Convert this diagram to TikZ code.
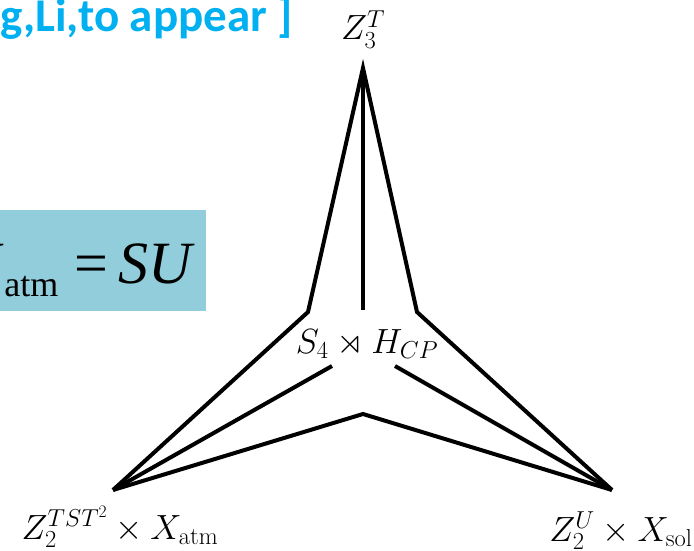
\RequirePackage{fix-cm}
\documentclass[tikz,border=0pt]{standalone}
\usepackage{amsmath, amssymb}
\usepackage{fontspec}
\usepackage{xcolor}
\usetikzlibrary{positioning}
\newfontfamily\slidesans{Carlito}
\newfontfamily\slideserif{Liberation Serif}
\definecolor{slideblue}{RGB}{0,176,240}
\definecolor{boxaqua}{RGB}{146,205,220}

\begin{document}
\begin{tikzpicture}[x=1pt, y=-1pt,
    leg/.style={line width=4pt, line join=miter},
    lbl/.style={inner sep=0pt, anchor=base,
                font=\fontsize{35}{42}\selectfont},
    cite/.style={inner sep=0pt, anchor=base west, text=slideblue,
                 font=\slidesans\bfseries\fontsize{47}{56}\selectfont},
    eqbox/.style={fill=boxaqua, inner sep=0pt, anchor=north west,
                  minimum width=206pt, minimum height=101pt},
    eq/.style={inner sep=0pt, anchor=base east,
               font=\slideserif\fontsize{60}{72}\selectfont}
]
    \useasboundingbox (0,0) rectangle (694,551);

    \node[cite] (note) at (0,32) {g,Li,to appear ]};
    \node[eqbox] (box) at (0,210) {};
    \node[eq] (eqtext) at (195,283)
        {\textit{V}\raisebox{-13pt}{\fontsize{36}{36}\selectfont atm}\hspace{16pt}=\hspace{10pt}\textit{SU}};

    \coordinate (top) at (363,68);
    \coordinate (kl) at (308,312);
    \coordinate (kr) at (417,312);
    \coordinate (bl) at (113,490);
    \coordinate (br) at (612,490);
    \coordinate (kb) at (363,414);
    \coordinate (mid) at (363,310);
    \coordinate (sl) at (332,366);
    \coordinate (sr) at (395,366);

    \draw[leg] (bl) -- (kl) -- (top) -- (kr) -- (br);
    \draw[leg] (top) -- (mid);
    \draw[leg] (bl) -- (sl);
    \draw[leg] (br) -- (sr);
    \draw[leg] (bl) -- (kb) -- (br);

    \node[lbl] (z3) at (363,40) {$Z_3^T$};
    \node[lbl] (s4) at (367,353) {$S_4\rtimes H_{CP}$};
    \node[lbl] (zatm) at (120,539) {$Z_2^{TST^2}\times X_{\mathrm{atm}}$};
    \node[lbl] (zsol) at (621,541) {$Z_2^U\times X_{\mathrm{sol}}$};
\end{tikzpicture}
\end{document}
